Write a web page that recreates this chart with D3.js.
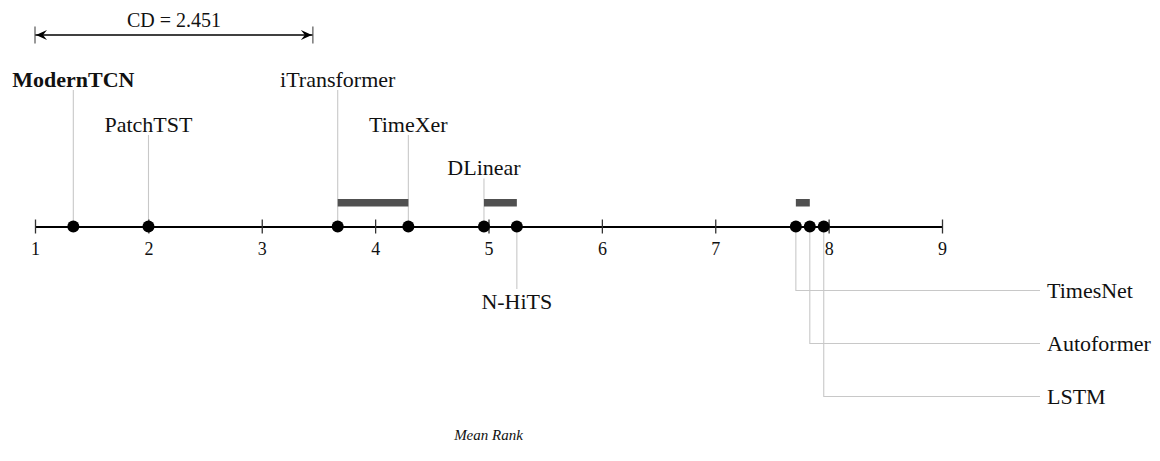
<!DOCTYPE html>
<html>
<head>
<meta charset="utf-8">
<script src="https://cdn.jsdelivr.net/npm/d3@7/dist/d3.min.js"></script>
<style>
  html, body { margin: 0; padding: 0; background: #fff; }
  svg { display: block; }
  text { font-family: "Liberation Serif", "DejaVu Serif", serif; fill: #111; }
</style>
</head>
<body>
<svg id="chart" width="1160" height="461"></svg>
<script>
// Critical-difference diagram: mean rank of each forecasting model
const methods   = ["ModernTCN", "PatchTST", "iTransformer", "TimeXer", "DLinear", "N-HiTS", "TimesNet", "Autoformer", "LSTM"];
const meanRanks = [1.338, 2.001, 3.670, 4.293, 4.960, 5.250, 7.711, 7.834, 7.957];
const bestMethod = "ModernTCN";
// groups of models whose ranks are not significantly different
const cliqueStarts = ["iTransformer", "DLinear", "TimesNet"];
const cliqueEnds   = ["TimeXer", "N-HiTS", "Autoformer"];
const criticalDiff = 2.451;
const rankTicks = [1, 2, 3, 4, 5, 6, 7, 8, 9];
const axisTitle = "Mean Rank";

const svg = d3.select("#chart");
const axisY = 226.5;
const x = d3.scaleLinear().domain([1, 9]).range([35, 942]);
const rankOf = new Map(methods.map((m, i) => [m, meanRanks[i]]));
const serif = "'Liberation Serif', 'DejaVu Serif', serif";

// CD scale bar
const cdG = svg.append("g");
const cdY = 35;
const cdX0 = x(1), cdX1 = x(1 + criticalDiff);
cdG.append("line").attr("x1", cdX0).attr("x2", cdX1).attr("y1", cdY).attr("y2", cdY)
  .attr("stroke", "#000").attr("stroke-width", 1.6);
[cdX0, cdX1].forEach(px => {
  cdG.append("line").attr("x1", px).attr("x2", px).attr("y1", cdY - 8.5).attr("y2", cdY + 8.5)
    .attr("stroke", "#555").attr("stroke-width", 1.2);
});
// arrow heads
const ah = (px, dir) => `M${px},${cdY} L${px - dir * 11},${cdY - 5} L${px - dir * 7},${cdY} L${px - dir * 11},${cdY + 5} Z`;
cdG.append("path").attr("d", ah(cdX0 + 1, -1)).attr("fill", "#000");
cdG.append("path").attr("d", ah(cdX1 - 1, 1)).attr("fill", "#000");
cdG.append("text").attr("x", (cdX0 + cdX1) / 2).attr("y", 26.5).attr("text-anchor", "middle")
  .style("font-family", serif).style("font-size", "20px").text(`CD = ${criticalDiff}`);

// label slots: rows above the axis, one below, and a column on the right
const aboveBaselines = [86.5, 131.5, 175];
const aboveRows = { "ModernTCN": 0, "PatchTST": 1, "iTransformer": 0, "TimeXer": 1, "DLinear": 2 };
const belowMethods = ["N-HiTS"];
const rightMethods = ["TimesNet", "Autoformer", "LSTM"];
const rightRowY = [290.5, 343.5, 396.5];
const rightLineEnd = 1040, rightTextX = 1047;

const connG = svg.append("g").attr("stroke", "#c8c8c8").attr("stroke-width", 1.1).attr("fill", "none");
const labG = svg.append("g");

methods.forEach(m => {
  const px = x(rankOf.get(m));
  const bold = m === bestMethod;
  if (m in aboveRows) {
    const by = aboveBaselines[aboveRows[m]];
    connG.append("line").attr("x1", px).attr("x2", px).attr("y1", by + 3.5).attr("y2", axisY);
    labG.append("text").attr("x", px).attr("y", by).attr("text-anchor", "middle")
      .style("font-family", serif).style("font-size", "22px")
      .style("font-weight", bold ? "bold" : "normal").text(m);
  } else if (belowMethods.includes(m)) {
    connG.append("line").attr("x1", px).attr("x2", px).attr("y1", axisY).attr("y2", 289);
    labG.append("text").attr("x", px).attr("y", 309).attr("text-anchor", "middle")
      .style("font-family", serif).style("font-size", "22px").text(m);
  } else {
    const ry = rightRowY[rightMethods.indexOf(m)];
    connG.append("path").attr("d", `M${px},${axisY} V${ry} H${rightLineEnd}`);
    labG.append("text").attr("x", rightTextX).attr("y", ry + 7.5).attr("text-anchor", "start")
      .style("font-family", serif).style("font-size", "22px").text(m);
  }
});

// clique bars
svg.append("g").selectAll("rect").data(cliqueStarts.map((s, i) => [s, cliqueEnds[i]]))
  .join("rect")
  .attr("x", d => x(rankOf.get(d[0])))
  .attr("width", d => x(rankOf.get(d[1])) - x(rankOf.get(d[0])))
  .attr("y", 199)
  .attr("height", 7.5)
  .attr("fill", "#505050");

// rank axis
const axis = d3.axisBottom(x).tickValues(rankTicks).tickFormat(d3.format("d")).tickSizeOuter(0).tickSizeInner(7);
const axG = svg.append("g").attr("transform", `translate(0,${axisY})`).call(axis)
  .attr("font-family", null).attr("font-size", null);
axG.select(".domain").attr("stroke", "#000").attr("stroke-width", 2);
axG.selectAll(".tick line").attr("y1", -7).attr("y2", 7).attr("stroke", "#333").attr("stroke-width", 1.3);
axG.selectAll(".tick text").attr("y", 28.5).attr("dy", null)
  .style("font-family", serif).style("font-size", "18px").attr("fill", "#111");

// rank markers
svg.append("g").selectAll("circle").data(meanRanks).join("circle")
  .attr("cx", d => x(d)).attr("cy", axisY).attr("r", 6).attr("fill", "#000");

// axis title
svg.append("text").attr("x", (x(1) + x(9)) / 2).attr("y", 440).attr("text-anchor", "middle")
  .style("font-family", serif).style("font-size", "15px").style("font-style", "italic").text(axisTitle);
</script>
</body>
</html>
